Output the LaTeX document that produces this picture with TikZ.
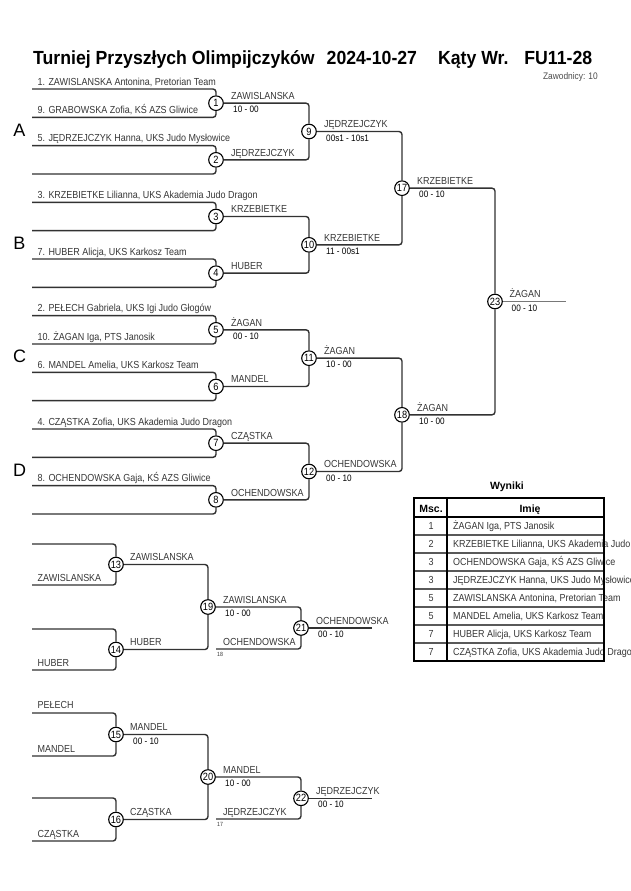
\documentclass[tikz,border=0pt]{standalone}
\usepackage{fontspec}
\setmainfont{Liberation Sans}[FakeStretch=0.88]
\newfontfamily\titlefont{Liberation Sans}[FakeStretch=0.93]
\newfontfamily\grpfont{Liberation Sans}
\definecolor{linec}{RGB}{50,50,50}
\definecolor{namec}{RGB}{55,55,55}
\definecolor{finalc}{RGB}{120,120,120}
\tikzset{
  conn/.style={draw=linec, line width=1.4pt, rounded corners=3pt},
  finalline/.style={draw=finalc, line width=1.8pt},
  mnode/.style={circle, draw=black, line width=1.1pt, fill=white, minimum size=14.6pt, inner sep=0pt, font=\fontsize{10.5}{10.5}\selectfont},
  plabel/.style={anchor=base west, inner sep=0pt, font=\fontsize{10.2}{11}\selectfont, text=namec},
  score/.style={anchor=base west, inner sep=0pt, font=\fontsize{9.3}{10}\selectfont, text=black},
  tinylab/.style={anchor=base west, inner sep=0pt, font=\fontsize{6}{6}\selectfont, text=namec},
  grp/.style={anchor=base, inner sep=0pt, font=\grpfont\fontsize{18}{18}\selectfont},
  tabtext/.style={anchor=base west, inner sep=0pt, font=\fontsize{10.2}{11}\selectfont, text=namec},
  tabnum/.style={anchor=base, inner sep=0pt, font=\fontsize{10.2}{11}\selectfont, text=namec},
  tabhead/.style={anchor=base, inner sep=0pt, font=\grpfont\bfseries\fontsize{10.5}{11}\selectfont},
}
\begin{document}
\begin{tikzpicture}[x=1pt,y=-1pt]
\fill[white] (0,0) rectangle (630,891);
\useasboundingbox (0,0) rectangle (630,891);

% title
\node[anchor=base west, inner sep=0pt, font={\titlefont\bfseries\fontsize{19}{20}\selectfont}] (title) at (33,64)
  {Turniej Przyszłych Olimpijczyków\hspace{12pt}2024-10-27\hspace{21pt}Kąty Wr.\hspace{16pt}FU11-28};
\node[anchor=base east, inner sep=0pt, font=\fontsize{9.5}{10}\selectfont, text=black!70] (zaw) at (598,80) {Zawodnicy: 10};

% group letters
\node[grp] (gA) at (19.5,136.2) {A};
\node[grp] (gB) at (19.5,249.5) {B};
\node[grp] (gC) at (19.5,362.9) {C};
\node[grp] (gD) at (19.5,476.2) {D};

% round 1 line start points
\foreach \i/\y in {0/89,1/117.33,2/145.67,3/174,4/202.33,5/230.67,6/259,7/287.33,8/315.67,9/344,10/372.33,11/400.67,12/429,13/457.33,14/485.67,15/514}
  \coordinate (p\i) at (32,\y);

% match nodes
\foreach \k/\y in {1/103.17,2/159.83,3/216.5,4/273.17,5/329.83,6/386.5,7/443.17,8/499.83}
  \node[mnode] (m\k) at (216,\y) {\k};
\foreach \k/\y in {9/131.5,10/244.83,11/358.17,12/471.5}
  \node[mnode] (m\k) at (309,\y) {\k};
\node[mnode] (m17) at (402,188.17) {17};
\node[mnode] (m18) at (402,414.83) {18};
\node[mnode] (m23) at (495,301.5) {23};

% connectors round 1
\foreach \a/\b/\m in {0/1/1,2/3/2,4/5/3,6/7/4,8/9/5,10/11/6,12/13/7,14/15/8}{
  \draw[conn] (p\a) -| (m\m);
  \draw[conn] (p\b) -| (m\m);
}
% later rounds
\foreach \a/\b/\m in {1/2/9,3/4/10,5/6/11,7/8/12,9/10/17,11/12/18,17/18/23}{
  \draw[conn] (m\a) -| (m\m);
  \draw[conn] (m\b) -| (m\m);
}
\coordinate (f23) at (566,301.5);
\draw[finalline] (m23) -- (f23);

% player labels
\node[plabel] (l0) at (37.5,85) {1. ZAWISLANSKA Antonina, Pretorian Team};
\node[plabel] (l1) at (37.5,113.3) {9. GRABOWSKA Zofia, KŚ AZS Gliwice};
\node[plabel] (l2) at (37.5,141.7) {5. JĘDRZEJCZYK Hanna, UKS Judo Mysłowice};
\node[plabel] (l4) at (37.5,198.3) {3. KRZEBIETKE Lilianna, UKS Akademia Judo Dragon};
\node[plabel] (l6) at (37.5,255) {7. HUBER Alicja, UKS Karkosz Team};
\node[plabel] (l8) at (37.5,311.7) {2. PEŁECH Gabriela, UKS Igi Judo Głogów};
\node[plabel] (l9) at (37.5,340) {10. ŻAGAN Iga, PTS Janosik};
\node[plabel] (l10) at (37.5,368.3) {6. MANDEL Amelia, UKS Karkosz Team};
\node[plabel] (l12) at (37.5,425) {4. CZĄSTKA Zofia, UKS Akademia Judo Dragon};
\node[plabel] (l14) at (37.5,481.7) {8. OCHENDOWSKA Gaja, KŚ AZS Gliwice};

% winner labels
\node[plabel] (w1) at (231,99.4) {ZAWISLANSKA};
\node[score] (s1) at (233,112.7) {10 - 00};
\node[plabel] (w2) at (231,156) {JĘDRZEJCZYK};
\node[plabel] (w3) at (231,212.7) {KRZEBIETKE};
\node[plabel] (w4) at (231,269.4) {HUBER};
\node[plabel] (w5) at (231,326) {ŻAGAN};
\node[score] (s5) at (233,339.3) {00 - 10};
\node[plabel] (w6) at (231,382.7) {MANDEL};
\node[plabel] (w7) at (231,439.4) {CZĄSTKA};
\node[plabel] (w8) at (231,496) {OCHENDOWSKA};
\node[plabel] (w9) at (324,127.7) {JĘDRZEJCZYK};
\node[score] (s9) at (326,141) {00s1 - 10s1};
\node[plabel] (w10) at (324,241) {KRZEBIETKE};
\node[score] (s10) at (326,254.3) {11 - 00s1};
\node[plabel] (w11) at (324,354.4) {ŻAGAN};
\node[score] (s11) at (326,367.7) {10 - 00};
\node[plabel] (w12) at (324,467.7) {OCHENDOWSKA};
\node[score] (s12) at (326,481) {00 - 10};
\node[plabel] (w17) at (417,184.4) {KRZEBIETKE};
\node[score] (s17) at (419,197.7) {00 - 10};
\node[plabel] (w18) at (417,411) {ŻAGAN};
\node[score] (s18) at (419,424.3) {10 - 00};
\node[plabel] (w23) at (509.5,297.3) {ŻAGAN};
\node[score] (s23) at (511.5,311) {00 - 10};

% ---------- repechage ----------
\coordinate (q13a) at (32,544);
\coordinate (q13b) at (32,585);
\coordinate (q14a) at (32,629);
\coordinate (q14b) at (32,670);
\coordinate (q15a) at (32,713);
\coordinate (q15b) at (32,756);
\coordinate (q16a) at (32,798);
\coordinate (q16b) at (32,841);
\coordinate (i18) at (216,649);
\coordinate (i17) at (216,819);
\coordinate (f21) at (372,628);
\coordinate (f22) at (372,798.3);

\node[mnode] (m13) at (116,564.5) {13};
\node[mnode] (m14) at (116,649.5) {14};
\node[mnode] (m19) at (208,607) {19};
\node[mnode] (m21) at (301,628) {21};
\node[mnode] (m15) at (116,734.5) {15};
\node[mnode] (m16) at (116,819.5) {16};
\node[mnode] (m20) at (208,777) {20};
\node[mnode] (m22) at (301,798.3) {22};

\draw[conn] (q13a) -| (m13);
\draw[conn] (q13b) -| (m13);
\draw[conn] (q14a) -| (m14);
\draw[conn] (q14b) -| (m14);
\draw[conn] (m13) -| (m19);
\draw[conn] (m14) -| (m19);
\draw[conn] (m19) -| (m21);
\draw[conn] (i18) -| (m21);
\draw[conn] (m21) -- (f21);
\draw[conn] (q15a) -| (m15);
\draw[conn] (q15b) -| (m15);
\draw[conn] (q16a) -| (m16);
\draw[conn] (q16b) -| (m16);
\draw[conn] (m15) -| (m20);
\draw[conn] (m16) -| (m20);
\draw[conn] (m20) -| (m22);
\draw[conn] (i17) -| (m22);
\draw[conn] (m22) -- (f22);

\node[plabel] (r13b) at (37.5,581) {ZAWISLANSKA};
\node[plabel] (r14b) at (37.5,666) {HUBER};
\node[plabel] (r15a) at (37.5,708.5) {PEŁECH};
\node[plabel] (r15b) at (37.5,752) {MANDEL};
\node[plabel] (r16b) at (37.5,837) {CZĄSTKA};

\node[plabel] (w13) at (130,560.5) {ZAWISLANSKA};
\node[plabel] (w14) at (130,645.5) {HUBER};
\node[plabel] (w19) at (223,603) {ZAWISLANSKA};
\node[score] (s19) at (225,616.3) {10 - 00};
\node[plabel] (x18) at (223,645) {OCHENDOWSKA};
\node[tinylab] (t18) at (217,656) {18};
\node[plabel] (w21) at (316,624) {OCHENDOWSKA};
\node[score] (s21) at (318,637.5) {00 - 10};
\node[plabel] (w15) at (130,730.5) {MANDEL};
\node[score] (s15) at (133,744) {00 - 10};
\node[plabel] (w16) at (130,815.5) {CZĄSTKA};
\node[plabel] (w20) at (223,773) {MANDEL};
\node[score] (s20) at (225,786.5) {10 - 00};
\node[plabel] (x17) at (223,815) {JĘDRZEJCZYK};
\node[tinylab] (t17) at (217,826) {17};
\node[plabel] (w22) at (316,794.3) {JĘDRZEJCZYK};
\node[score] (s22) at (318,807.8) {00 - 10};

% ---------- results table ----------
\node[anchor=base, inner sep=0pt, font=\grpfont\bfseries\fontsize{10.5}{12}\selectfont] (wyn) at (507,489) {Wyniki};
\node[tabhead] (hmsc) at (431,512.3) {Msc.};
\node[tabhead] (himie) at (530,512.3) {Imię};
\foreach \r/\n/\t in {0/1/{ŻAGAN Iga, PTS Janosik},
                      1/2/{KRZEBIETKE Lilianna, UKS Akademia Judo Dragon},
                      2/3/{OCHENDOWSKA Gaja, KŚ AZS Gliwice},
                      3/3/{JĘDRZEJCZYK Hanna, UKS Judo Mysłowice},
                      4/5/{ZAWISLANSKA Antonina, Pretorian Team},
                      5/5/{MANDEL Amelia, UKS Karkosz Team},
                      6/7/{HUBER Alicja, UKS Karkosz Team},
                      7/7/{CZĄSTKA Zofia, UKS Akademia Judo Dragon}}{
  \node[tabnum] (rn\r) at (431,{529.5+18*\r}) {\n};
  \node[tabtext] (rt\r) at (453,{529.5+18*\r}) {\t};
}
\foreach \r in {1,...,7}
  \draw[black!65, line width=1.2pt] (414,{517+18*\r}) -- (604,{517+18*\r});
\draw[black, line width=1.4pt] (414,517) -- (604,517);
\draw[black, line width=1.2pt] (447,498) -- (447,661);
\draw[black, line width=2pt] (414,498) rectangle (604,661);
\end{tikzpicture}
\end{document}
